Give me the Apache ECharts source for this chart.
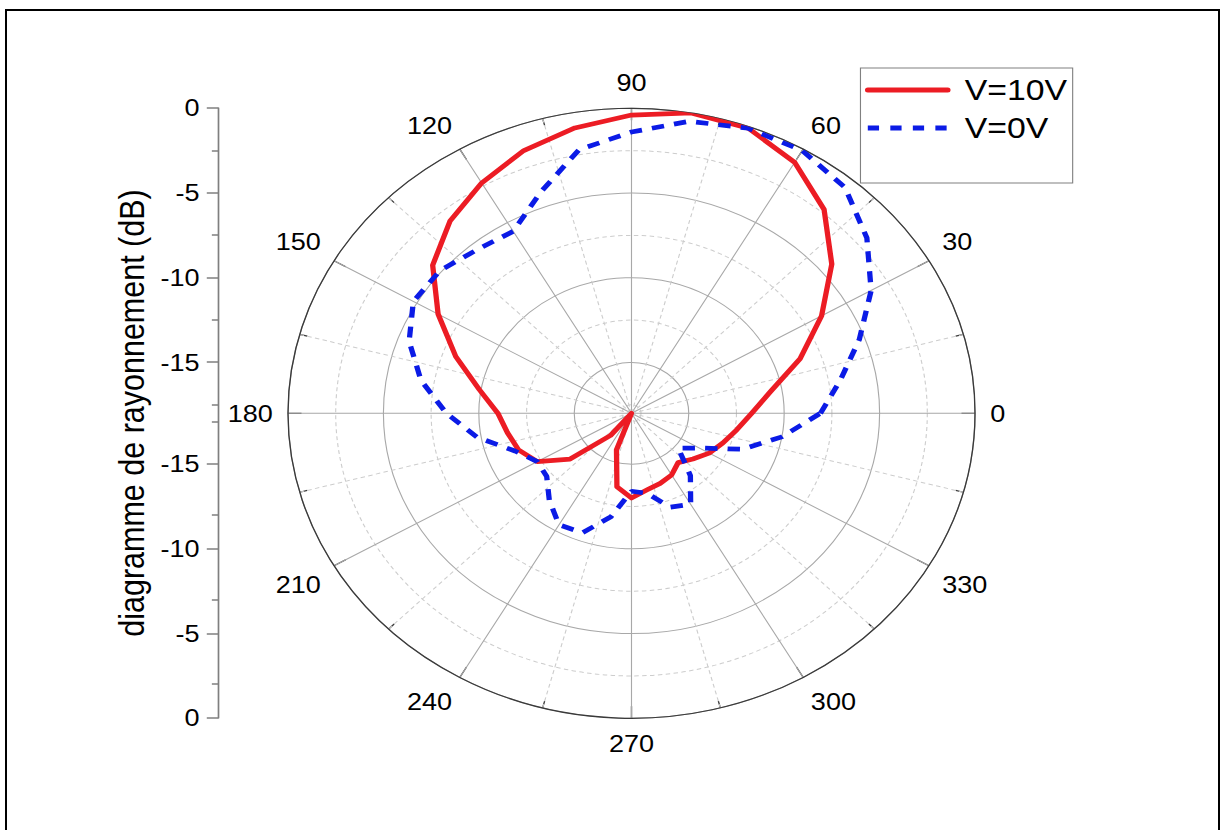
<!DOCTYPE html>
<html><head><meta charset="utf-8">
<script src="https://cdn.jsdelivr.net/npm/echarts@6/dist/echarts.min.js"></script>
<style>
html,body{margin:0;padding:0;background:#fff;width:1222px;height:830px;overflow:hidden;}
#frame{position:absolute;left:5px;top:9px;width:1215px;height:840px;border:2px solid #000;box-sizing:border-box;}
#wrap{position:absolute;left:0;top:0;width:1085px;height:830px;transform:scaleX(1.12627);transform-origin:0 0;}
</style></head>
<body><div id="frame"></div><div id="wrap"></div>
<script>
// ---- data (angles in degrees, levels in dB) ----
const angles = [0,10,20,30,40,50,60,70,80,90,100,110,120,130,140,150,160,170,180,190,200,210,220,230,240,250,260,270,280,290,300,310,320,330,340,350,360];
const v10 = [-11.7,-10.6,-8.6,-6.5,-4.3,-2.3,-0.9,-0.1,0,-0.4,-0.9,-1.5,-2.3,-3.2,-4.4,-6.3,-8.2,-9.9,-11.0,-11.4,-11.7,-12.3,-13.8,-16.3,-18,-15.7,-13.6,-13.0,-13.4,-13.6,-13.8,-14.2,-13.8,-13.3,-12.9,-12.4,-11.7];
const v0 = [-8.1,-6.9,-5.3,-3.5,-1.9,-0.6,-0.1,-0.1,-0.5,-1.4,-2.2,-4.1,-5.6,-5.4,-4.9,-4.8,-5.6,-6.8,-8.3,-9.8,-11.5,-12.3,-12.2,-11.3,-10.4,-10.5,-11.8,-13.4,-13.2,-12.1,-11.8,-13.2,-14.8,-13.9,-11.8,-10.0,-8.1];
const seriesNames = ['V=10V', 'V=0V'];
const seriesColors = ['#ec1c24', '#0b1be6'];
const yTitle = 'diagramme de rayonnement (dB)';
// left mirrored axis: tick labels (dB) for upper half and lower half
const leftMajorDb = [0, -5, -10, -15];
const leftMinorUpperDb = [-2.5, -7.5, -12.5, -17.5];
const leftMinorLowerDb = [-2, -7, -12, -17.5];
const dbMin = -18, dbMax = 0;

// ---- chart ----
const F = '"Liberation Sans", Arial, Helvetica, sans-serif';
const span = dbMax - dbMin;
const majorVals = leftMajorDb.map(d => d - dbMin).concat(leftMajorDb.map(d => -(d - dbMin)));
const minorVals = leftMinorUpperDb.map(d => d - dbMin).concat(leftMinorLowerDb.map(d => -(d - dbMin)));

const chart = echarts.init(document.getElementById('wrap'), null, {renderer: 'svg', width: 1085, height: 830});
const axisGrey = '#7f7f7f';
const option = {
  animation: false,
  color: seriesColors,
  textStyle: {fontFamily: F},
  legend: {
    orient: 'vertical', left: 764, top: 68,
    padding: [7, 5, 40, 4],
    itemWidth: 71, itemHeight: 20, itemGap: 8,
    borderColor: '#808080', borderWidth: 1, borderRadius: 0,
    textStyle: {fontSize: 30, color: '#000', fontFamily: F, padding: [0, 0, 0, 10]},
    data: [
      {name: seriesNames[0], itemStyle: {opacity: 0}, lineStyle: {width: 5, color: seriesColors[0], type: 'solid'}},
      {name: seriesNames[1], itemStyle: {opacity: 0}, lineStyle: {width: 5, color: seriesColors[1], type: [10, 10]}}
    ]
  },
  polar: {center: [560.7, 413.3], radius: 305},
  angleAxis: {
    type: 'value', min: 0, max: 360, interval: 30, startAngle: 0, clockwise: false,
    axisLine: {show: true, lineStyle: {color: '#3a3a3a', width: 1.2}},
    axisTick: {show: true, inside: true, length: 12, lineStyle: {color: '#3a3a3a', width: 1.2}},
    minorTick: {show: true, splitNumber: 2, length: 7, lineStyle: {color: '#3a3a3a', width: 1.2}},
    axisLabel: {margin: 13.5, fontSize: 24, color: '#000', fontFamily: F},
    splitLine: {show: true, lineStyle: {color: '#a8a8a8', width: 1}},
    minorSplitLine: {show: true, lineStyle: {color: '#cdcdcd', width: 1, type: [4, 3]}}
  },
  radiusAxis: {
    type: 'value', min: dbMin, max: dbMax, splitNumber: 4, minInterval: 5, maxInterval: 5,
    axisLine: {show: false}, axisTick: {show: false}, axisLabel: {show: false},
    splitLine: {show: true, lineStyle: {color: '#a8a8a8', width: 1}},
    minorTick: {show: false, splitNumber: 2},
    minorSplitLine: {show: true, lineStyle: {color: '#cdcdcd', width: 1, type: [4, 3]}}
  },
  grid: [
    {left: 193.6, top: 108, height: 610, width: 1},
    {left: 193.6, top: 108, height: 610, width: 1}
  ],
  xAxis: [
    {type: 'value', gridIndex: 0, show: false},
    {type: 'value', gridIndex: 1, show: false}
  ],
  yAxis: [
    {
      type: 'value', gridIndex: 0, min: -span, max: span, position: 'left',
      axisLine: {show: true, lineStyle: {color: axisGrey, width: 1.5}},
      axisTick: {show: true, customValues: majorVals, length: 10, lineStyle: {color: axisGrey, width: 1.5}},
      axisLabel: {show: true, customValues: majorVals, margin: 16.5, fontSize: 24, color: '#000', fontFamily: F,
        formatter: v => String(Math.round(Math.abs(v) + dbMin))},
      splitLine: {show: false},
      name: yTitle, nameLocation: 'middle', nameGap: 61, nameRotate: 90,
      nameTextStyle: {fontSize: 30.5, color: '#000', fontFamily: F}
    },
    {
      type: 'value', gridIndex: 1, min: -span, max: span, position: 'left',
      axisLine: {show: false},
      axisTick: {show: true, customValues: minorVals, length: 5.5, lineStyle: {color: axisGrey, width: 1.5}},
      axisLabel: {show: false},
      splitLine: {show: false}
    }
  ],
  series: [
    {name: seriesNames[0], type: 'line', coordinateSystem: 'polar', polarIndex: 0,
     data: angles.map((a, i) => [v10[i], a]), symbol: 'none', z: 3,
     itemStyle: {color: seriesColors[0]},
     lineStyle: {color: seriesColors[0], width: 4.7, cap: 'round', join: 'round'}},
    {name: seriesNames[1], type: 'line', coordinateSystem: 'polar', polarIndex: 0,
     data: angles.map((a, i) => [v0[i], a]), symbol: 'none', z: 4,
     itemStyle: {color: seriesColors[1]},
     lineStyle: {color: seriesColors[1], width: 4.7, type: [11, 9]}}
  ]
};
chart.setOption(option);
</script></body></html>
